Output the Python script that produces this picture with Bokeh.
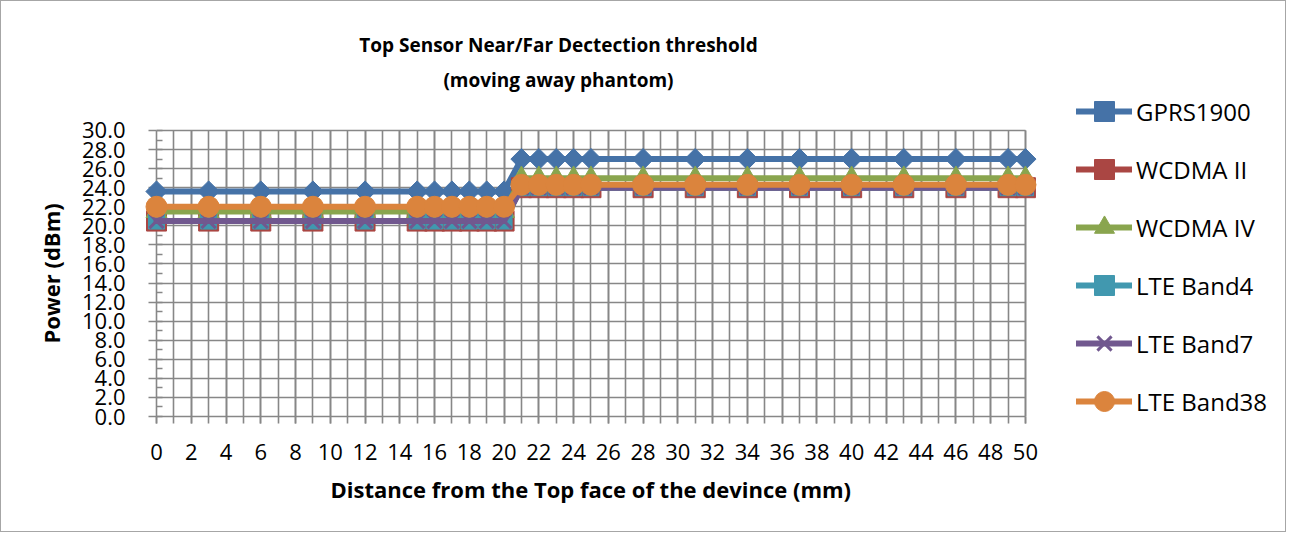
from bokeh.plotting import figure
from bokeh.models import (Range1d, SingleIntervalTicker, Legend, LegendItem, Title, Label,
                          PrintfTickFormatter)
from bokeh.embed import file_html
from bokeh.resources import INLINE

# ---------------- data ----------------
distance_mm = [0, 3, 6, 9, 12, 15, 16, 17, 18, 19, 20, 21, 22, 23, 24, 25, 28, 31, 34, 37, 40, 43, 46, 49, 50]
gprs1900   = [23.6, 23.6, 23.6, 23.6, 23.6, 23.6, 23.6, 23.6, 23.6, 23.6, 23.6, 27.0, 27.0, 27.0, 27.0, 27.0, 27.0, 27.0, 27.0, 27.0, 27.0, 27.0, 27.0, 27.0, 27.0]
wcdma_ii   = [20.5, 20.5, 20.5, 20.5, 20.5, 20.5, 20.5, 20.5, 20.5, 20.5, 20.5, 24.0, 24.0, 24.0, 24.0, 24.0, 24.0, 24.0, 24.0, 24.0, 24.0, 24.0, 24.0, 24.0, 24.0]
wcdma_iv   = [21.5, 21.5, 21.5, 21.5, 21.5, 21.5, 21.5, 21.5, 21.5, 21.5, 21.5, 25.0, 25.0, 25.0, 25.0, 25.0, 25.0, 25.0, 25.0, 25.0, 25.0, 25.0, 25.0, 25.0, 25.0]
lte_band4  = [20.5, 20.5, 20.5, 20.5, 20.5, 20.5, 20.5, 20.5, 20.5, 20.5, 20.5, 24.0, 24.0, 24.0, 24.0, 24.0, 24.0, 24.0, 24.0, 24.0, 24.0, 24.0, 24.0, 24.0, 24.0]
lte_band7  = [20.5, 20.5, 20.5, 20.5, 20.5, 20.5, 20.5, 20.5, 20.5, 20.5, 20.5, 24.0, 24.0, 24.0, 24.0, 24.0, 24.0, 24.0, 24.0, 24.0, 24.0, 24.0, 24.0, 24.0, 24.0]
lte_band38 = [22.0, 22.0, 22.0, 22.0, 22.0, 22.0, 22.0, 22.0, 22.0, 22.0, 22.0, 24.3, 24.3, 24.3, 24.3, 24.3, 24.3, 24.3, 24.3, 24.3, 24.3, 24.3, 24.3, 24.3, 24.3]

series_names = ["GPRS1900", "WCDMA II", "WCDMA IV", "LTE Band4", "LTE Band7", "LTE Band38"]
series_values = [gprs1900, wcdma_ii, wcdma_iv, lte_band4, lte_band7, lte_band38]
series_colors = ["#4572A7", "#AA4643", "#89A54E", "#4198AF", "#71588F", "#DB843D"]
series_markers = ["square", "square", "triangle", "square", "x", "circle"]
series_sizes = [15, 20, 21, 16, 20, 21]
series_angles = [0.785398, 0, 0, 0, 0, 0]

x_min, x_max = 0, 50
y_min, y_max = 0, 30

title_line1 = "Top Sensor Near/Far Dectection threshold"
title_line2 = "(moving away phantom)"
x_title = "Distance from the Top face of the devince (mm)"
y_title = "Power (dBm)"

FONT = "Open Sans"
GRID = "#878787"

# the frame is widened/heightened to hold the legend and titles; grid and axes
# are bounded to the real data window (0-50 mm, 0-30 dBm)
W, H = 1286, 532
p = figure(width=W, height=H, output_backend="svg", toolbar_location=None, title=None,
           x_range=Range1d(0, 65.08), y_range=Range1d(0, 43.53),
           min_border_left=155, min_border_right=0, min_border_top=0, min_border_bottom=117)
p.outline_line_color = None
p.styles = {"border": "1px solid #a6a6a6"}

# axes
p.xaxis.ticker = SingleIntervalTicker(interval=2, num_minor_ticks=2)
p.yaxis.ticker = SingleIntervalTicker(interval=2, num_minor_ticks=2)
p.yaxis.formatter = PrintfTickFormatter(format="%.1f")
p.xaxis.bounds = (x_min, x_max)
p.yaxis.bounds = (y_min, y_max)
for ax in (p.xaxis[0], p.yaxis[0]):
    ax.axis_line_color = GRID
    ax.axis_line_width = 1.6
    ax.major_tick_line_color = GRID
    ax.major_tick_line_width = 1.6
    ax.minor_tick_line_color = GRID
    ax.minor_tick_line_width = 1.6
    ax.major_label_text_font = FONT
    ax.major_label_text_font_size = "22px"
    ax.major_label_text_color = "black"
p.xaxis.major_tick_out = 7
p.xaxis.major_tick_in = 0
p.xaxis.minor_tick_out = 7
p.xaxis.minor_tick_in = 0
p.xaxis.major_label_standoff = 20
p.yaxis.major_tick_out = 8
p.yaxis.major_tick_in = 0
p.yaxis.minor_tick_out = 0
p.yaxis.minor_tick_in = 6
p.yaxis.major_label_standoff = 23

# grid, limited to the data window
p.xgrid.bounds = (x_min, x_max)
p.xgrid.cross_bounds = (y_min, y_max)
p.ygrid.bounds = (y_min, y_max)
p.ygrid.cross_bounds = (x_min, x_max)
p.xgrid.grid_line_color = GRID
p.xgrid.grid_line_width = 1.6
p.xgrid.minor_grid_line_color = GRID
p.xgrid.minor_grid_line_width = 1.6
p.ygrid.grid_line_color = GRID
p.ygrid.grid_line_width = 1.6

items = []
for name, vals, col, mk, sz, ang in zip(series_names, series_values, series_colors,
                                         series_markers, series_sizes, series_angles):
    rl = p.line(distance_mm, vals, line_color=col, line_width=6, line_join="round",
                line_cap="round", level="overlay")
    if mk == "x":
        rm = p.scatter(distance_mm, vals, marker=mk, size=sz, line_color=col, line_width=3,
                       level="overlay")
    else:
        rm = p.scatter(distance_mm, vals, marker=mk, size=sz, angle=ang, fill_color=col,
                       line_color=col, line_width=1, level="overlay")
    items.append(LegendItem(label=name, renderers=[rl, rm]))

legend = Legend(items=items, location=(920, -10), padding=0, margin=0, spacing=8,
                glyph_width=56, glyph_height=50, label_height=50, label_standoff=4,
                label_text_font=FONT, label_text_font_size="24px", label_text_color="black",
                border_line_color=None, background_fill_alpha=0)
p.add_layout(legend)

# chart title (inside the enlarged frame, data units)
for ty, txt in ((38.92, title_line1), (35.25, title_line2)):
    p.add_layout(Label(x=23.13, y=ty, text=txt, text_align="center", text_baseline="middle",
                       text_font=FONT, text_font_style="bold", text_font_size="19px",
                       text_color="black"))

# axis titles as side-panel titles
p.add_layout(Title(text=y_title, align="left", offset=73, standoff=26,
                   text_font=FONT, text_font_style="bold", text_font_size="22px",
                   text_color="black"), "left")
p.add_layout(Title(text=x_title, align="left", offset=174, standoff=18,
                   text_font=FONT, text_font_style="bold", text_font_size="22px",
                   text_color="black"), "below")

open("out.html", "w").write(file_html(p, INLINE))
